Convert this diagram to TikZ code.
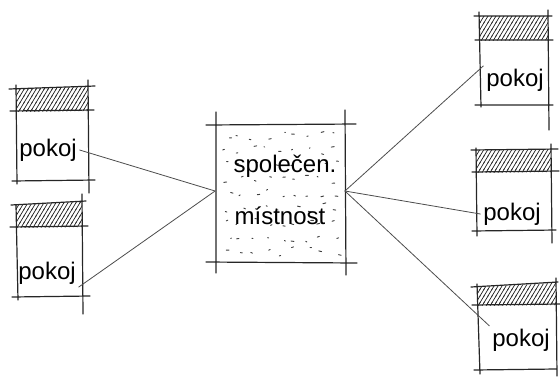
\documentclass[tikz,border=0pt]{standalone}
\usepackage{fontspec}
\setmainfont{Liberation Sans}
\usetikzlibrary{patterns, positioning}

\pgfdeclarepatternformonly{dense lines}{\pgfqpoint{-1pt}{-1pt}}{\pgfqpoint{4pt}{6pt}}{\pgfqpoint{3pt}{5pt}}{
  \pgfsetlinewidth{0.55pt}
  \pgfpathmoveto{\pgfqpoint{-0.3pt}{-0.5pt}}
  \pgfpathlineto{\pgfqpoint{3.3pt}{5.5pt}}
  \pgfusepath{stroke}}

\begin{document}
\begin{tikzpicture}[x=0.75pt, y=-0.75pt, line cap=round,
every node/.style = {font = \fontsize{18}{20}\selectfont, inner sep = 2pt},
wall/.style = {black!85, line width = 0.9pt},
link/.style = {black!70, line width = 0.6pt},
hatch/.style = {pattern = dense lines, pattern color = black!85}]

\useasboundingbox (0,0) rectangle (560,376);

% room left top
\fill [hatch] (16,89) -- (88,86) -- (88,111) -- (16,112) -- cycle;
\draw [wall] (9,89) -- (95,86) (10,111) -- (94,110) (12,181) -- (95,180)
  (16,85) -- (17,184) (88,80) -- (89,193);
\node (r1) at (48,150) {pokoj};

% room left bottom
\fill [hatch] (16,205) -- (82,202) -- (82,227) -- (16,228) -- cycle;
\draw [wall] (11,205) -- (86,201) (10,227) -- (88,226) (12,297) -- (90,296)
  (16,205) -- (18,300) (82,194) -- (83,314);
\node (r2) at (47,273) {pokoj};

% room right top
\fill [hatch] (479,16) -- (548,16) -- (548,40) -- (479,41) -- cycle;
\draw [wall] (474,16) -- (552,16) (475,40) -- (553,40) (475,105) -- (553,105)
  (479,12) -- (481,107) (548,10) -- (549,130);
\node (r3) at (515,80) {pokoj};

% room right middle
\fill [hatch] (476,150) -- (551,149) -- (551,172) -- (476,173) -- cycle;
\draw [wall] (471,150) -- (558,149) (472,172) -- (559,171) (472,231) -- (556,230)
  (476,148) -- (477,236) (551,144) -- (552,243);
\node (r4) at (512,214) {pokoj};

% room right bottom
\fill [hatch] (477,287) -- (556,283) -- (556,305) -- (477,306) -- cycle;
\draw [wall] (471,287) -- (558,282) (472,305) -- (560,304) (474,370) -- (556,369)
  (477,284) -- (480,374) (556,278) -- (557,376);
\node (r5) at (521,340) {pokoj};

% common room
\pgfmathsetseed{41}
\foreach \i in {0,...,8}
  \foreach \j in {0,...,8}
    \draw [black!75, line width=0.7pt] ({222+\i*13.5+rnd*9},{131+\j*14.5+rnd*9}) -- ++({0.6+rnd*2.4},{rnd*1.6-0.8});
\draw [wall] (206,125) -- (356,124) (206,262) -- (357,263)
  (216,112) -- (216,273) (345,110) -- (346,275);
\node (hall) [minimum width = 97pt, minimum height = 103pt] at (280,191) {};
\node (t1) at (285,166) {společen.};
\node (t2) at (280,216) {místnost};

% links
\draw [link] (r1.east) -- (hall.west);
\draw [link] (r2.south east) -- (hall.west);
\draw [link] (hall.east) -- (r3.north west);
\draw [link] (hall.east) -- (r4.west);
\draw [link] (hall.east) -- (r5.north west);
\end{tikzpicture}
\end{document}
